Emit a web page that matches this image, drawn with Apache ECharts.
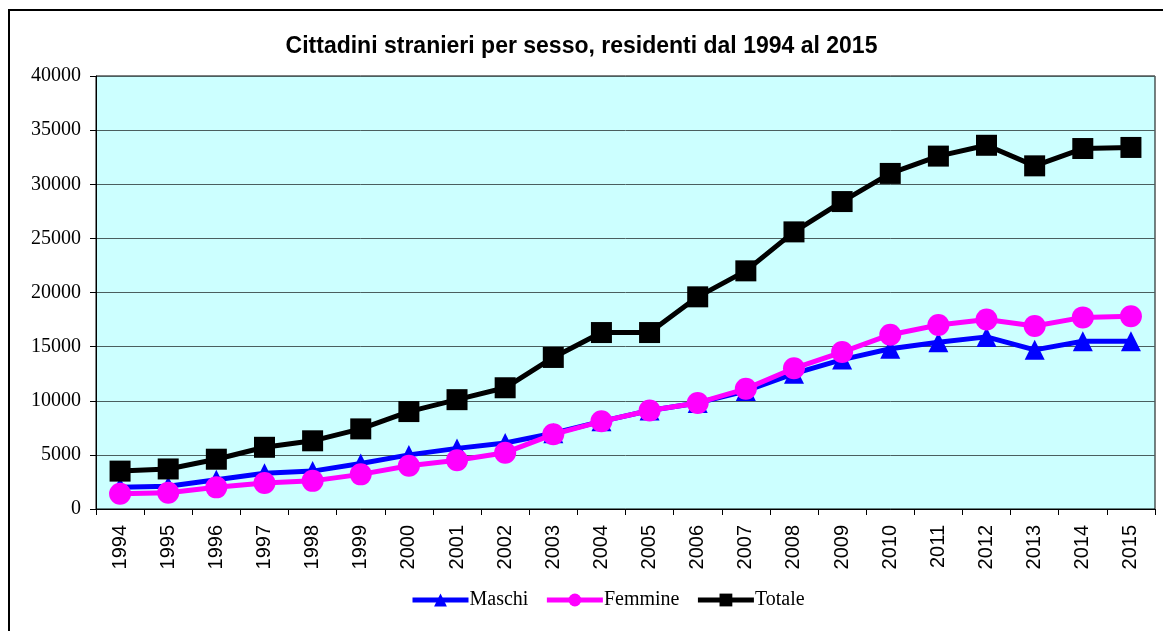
<!DOCTYPE html>
<html>
<head>
<meta charset="utf-8">
<script src="https://cdn.jsdelivr.net/npm/echarts@6/dist/echarts.min.js"></script>
<style>
  html, body { margin: 0; padding: 0; background: #fff; }
  #chart { width: 1163px; height: 631px; }
</style>
</head>
<body>
<div id="chart"></div>
<script>
  // anni e valori
  var years = ['1994','1995','1996','1997','1998','1999','2000','2001','2002','2003','2004',
               '2005','2006','2007','2008','2009','2010','2011','2012','2013','2014','2015'];
  var maschi = [2000, 2100, 2700, 3300, 3500, 4200, 5000, 5600, 6100, 7000, 8100,
                9100, 9800, 10900, 12500, 13800, 14800, 15400, 15900, 14700, 15500, 15500];
  var femmine = [1400, 1500, 2000, 2400, 2600, 3200, 4000, 4500, 5200, 6900, 8100,
                 9100, 9800, 11100, 13000, 14500, 16100, 17000, 17500, 16900, 17700, 17800];
  var totale = [3500, 3700, 4600, 5700, 6300, 7400, 9000, 10100, 11200, 14000, 16300,
                16300, 19600, 22000, 25600, 28400, 31000, 32600, 33600, 31700, 33300, 33400];

  var chart = echarts.init(document.getElementById('chart'));

  chart.setOption({
    animation: false,
    title: {
      text: 'Cittadini stranieri per sesso, residenti dal 1994 al 2015',
      left: 'center',
      top: 30,
      textStyle: { fontFamily: 'Liberation Sans', fontWeight: 'bold', fontSize: 23, color: '#000' }
    },
    graphic: [{
      type: 'rect',
      shape: { x: 9, y: 10, width: 1170, height: 660 },
      style: { fill: 'none', stroke: '#000', lineWidth: 2 },
      z: 100
    }],
    legend: {
      bottom: 16,
      left: 405,
      itemWidth: 56,
      itemHeight: 16,
      itemGap: 16,
      lineStyle: { width: 5 },
      textStyle: { fontFamily: 'Liberation Serif', fontSize: 20, color: '#000', padding: [0, 0, 0, -4] },
      data: ['Maschi', 'Femmine', 'Totale']
    },
    grid: {
      left: 96,
      top: 76,
      right: 8,
      bottom: 122,
      show: true,
      backgroundColor: '#ccffff',
      borderColor: '#000',
      borderWidth: 1
    },
    xAxis: {
      type: 'category',
      data: years,
      boundaryGap: true,
      axisLine: { lineStyle: { color: '#000', width: 1 } },
      axisTick: { show: true, length: 6, lineStyle: { color: '#000' } },
      axisLabel: {
        rotate: 90,
        margin: 16,
        interval: 0,
        fontFamily: 'Liberation Sans',
        fontSize: 20,
        color: '#000'
      }
    },
    yAxis: {
      type: 'value',
      min: 0,
      max: 40000,
      interval: 5000,
      axisLine: { show: true, lineStyle: { color: '#000', width: 1 } },
      axisTick: { show: true, length: 6, lineStyle: { color: '#000' } },
      axisLabel: {
        margin: 15,
        fontFamily: 'Liberation Serif',
        fontSize: 20,
        color: '#000',
        formatter: function (v) { return String(v); }
      },
      splitLine: { show: true, lineStyle: { color: '#4a5f5f', width: 1 } }
    },
    series: [
      {
        name: 'Maschi',
        type: 'line',
        data: maschi,
        symbol: 'triangle',
        symbolSize: 20,
        lineStyle: { color: '#0000ff', width: 5 },
        itemStyle: { color: '#0000ff' },
        z: 3
      },
      {
        name: 'Femmine',
        type: 'line',
        data: femmine,
        symbol: 'circle',
        symbolSize: 22,
        lineStyle: { color: '#ff00ff', width: 5 },
        itemStyle: { color: '#ff00ff' },
        z: 4
      },
      {
        name: 'Totale',
        type: 'line',
        data: totale,
        symbol: 'rect',
        symbolSize: 21,
        lineStyle: { color: '#000', width: 5 },
        itemStyle: { color: '#000' },
        z: 5
      }
    ]
  });
</script>
</body>
</html>
